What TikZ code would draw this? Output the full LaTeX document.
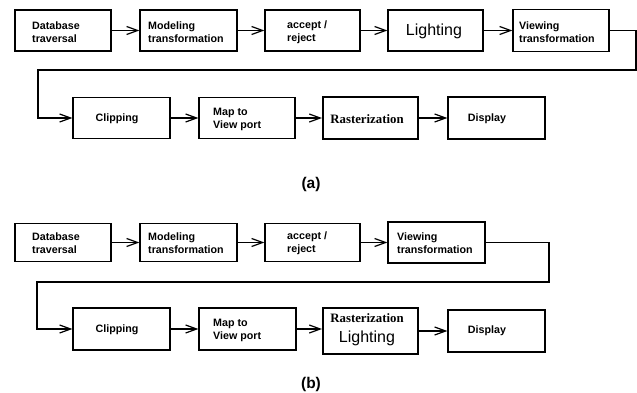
\documentclass[tikz,border=0pt]{standalone}
\usepackage{fontspec}
\setmainfont{Liberation Sans}
\newfontfamily\serifb{Liberation Serif}
\usetikzlibrary{arrows.meta}
\tikzset{
  box/.style={draw, line width=1.2pt, rectangle, inner sep=0pt},
  thickbox/.style={box, line width=2pt},
  txt/.style={inner sep=0pt, align=left, font=\fontsize{10.7}{13}\selectfont\bfseries},
  bigtxt/.style={inner sep=0pt, font=\fontsize{16}{18}\selectfont},
  rastxt/.style={inner sep=0pt, font=\fontsize{12.8}{15}\selectfont\serifb\bfseries},
  captxt/.style={inner sep=0pt, font=\fontsize{15.5}{18}\selectfont\bfseries},
  arr/.style={line width=1.2pt, -{Straight Barb[length=11pt,width=8pt,line width=1.2pt]}},
  conn/.style={line width=1.2pt}
}
\begin{document}
\begin{tikzpicture}[x=1pt,y=-1pt]
\useasboundingbox (0,0) rectangle (637,392);
% ---------- (a) ----------
\node[box, minimum width=96pt, minimum height=41pt] (A1) at (63,30.5) {};
\node[box, minimum width=97pt, minimum height=41pt] (A2) at (188.5,30.5) {};
\node[box, minimum width=95pt, minimum height=41pt] (A3) at (312.5,30.5) {};
\node[box, minimum width=95pt, minimum height=41pt] (A4) at (435.5,30.5) {};
\node[box, minimum width=96pt, minimum height=42pt] (A5) at (561,30.5) {};
\node[box, minimum width=97pt, minimum height=41pt] (A6) at (121.5,118) {};
\node[box, minimum width=96pt, minimum height=41pt] (A7) at (247,118) {};
\node[thickbox, minimum width=95pt, minimum height=42pt] (A8) at (370.5,118) {};
\node[box, minimum width=97pt, minimum height=42pt] (A9) at (496.5,118) {};

\node[txt, anchor=west] (A1t) at (32,32) {Database\\traversal};
\node[txt, anchor=west] (A2t) at (148,32) {Modeling\\transformation};
\node[txt, anchor=west] (A3t) at (287,32) {accept /\\reject};
\node[bigtxt] (A4t) at (434,31) {Lighting};
\node[txt, anchor=west] (A5t) at (519,32) {Viewing\\transformation};
\node[txt] (A6t) at (117,119) {Clipping};
\node[txt, anchor=west] (A7t) at (213,119) {Map to\\View port};
\node[rastxt] (A8t) at (367,119) {Rasterization};
\node[txt] (A9t) at (487,119) {Display};

\draw[arr] (A1) -- (A2);
\draw[arr] (A2) -- (A3);
\draw[arr] (A3) -- (A4);
\draw[arr] (A4) -- (A5);
\coordinate (la1) at (636,30.5);
\coordinate (la2) at (636,70);
\coordinate (la3) at (38,70);
\draw[arr] (A5.east) -- (la1) -- (la2) -- (la3) |- (A6.west);
\draw[arr] (A6) -- (A7);
\draw[arr] (A7) -- (A8);
\draw[arr] (A8) -- (A9);

\node[captxt] (capa) at (311,184) {(a)};

% ---------- (b) ----------
\node[box, minimum width=96pt, minimum height=38pt] (B1) at (63,242.5) {};
\node[box, minimum width=97pt, minimum height=38pt] (B2) at (188.5,242.5) {};
\node[box, minimum width=95pt, minimum height=38pt] (B3) at (312.5,242.5) {};
\node[box, minimum width=97pt, minimum height=41pt] (B4) at (436.5,242.5) {};
\node[box, minimum width=97pt, minimum height=42pt] (B5) at (121.5,329) {};
\node[box, minimum width=97pt, minimum height=42pt] (B6) at (247.5,329) {};
\node[thickbox, minimum width=95pt, minimum height=46pt] (B7) at (370.5,331) {};
\node[box, minimum width=97pt, minimum height=42pt] (B8) at (496.5,331) {};

\node[txt, anchor=west] (B1t) at (32,243) {Database\\traversal};
\node[txt, anchor=west] (B2t) at (148,243) {Modeling\\transformation};
\node[txt, anchor=west] (B3t) at (287,243) {accept /\\reject};
\node[txt, anchor=west] (B4t) at (397,243) {Viewing\\transformation};
\node[txt] (B5t) at (117,330) {Clipping};
\node[txt, anchor=west] (B6t) at (213,330) {Map to\\View port};
\node[rastxt] (B7t) at (367,318) {Rasterization};
\node[bigtxt] (B7l) at (367,338) {Lighting};
\node[txt] (B8t) at (487,331) {Display};

\draw[arr] (B1) -- (B2);
\draw[arr] (B2) -- (B3);
\draw[arr] (B3) -- (B4);
\coordinate (lb1) at (549,242.5);
\coordinate (lb2) at (549,282);
\coordinate (lb3) at (37,282);
\draw[arr] (B4.east) -- (lb1) -- (lb2) -- (lb3) |- (B5.west);
\draw[arr] (B5) -- (B6);
\draw[arr] (B6) -- (B7.west |- B6);
\draw[arr] (B7.east |- B8) -- (B8);

\node[captxt] (capb) at (311,384) {(b)};
\end{tikzpicture}
\end{document}
